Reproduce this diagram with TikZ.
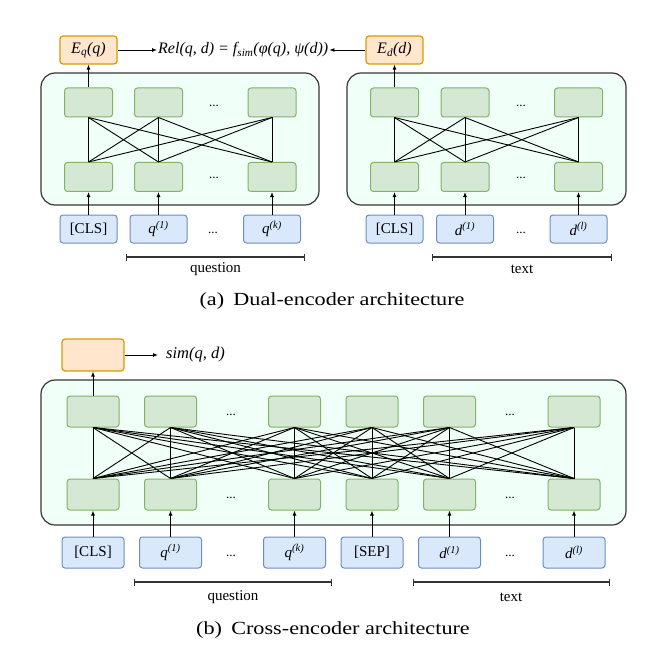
\documentclass[tikz,border=0pt]{standalone}
\usepackage{fontspec}
\setmainfont{Liberation Serif}
\newfontfamily\capfont[FakeStretch=1.2]{Liberation Serif}
\usetikzlibrary{arrows.meta}
\definecolor{mint}{HTML}{F0FFF8}
\definecolor{contline}{HTML}{363636}
\definecolor{gfill}{HTML}{D5E8D4}
\definecolor{gline}{HTML}{82B366}
\definecolor{bfill}{HTML}{DAE8FC}
\definecolor{bline}{HTML}{6C8EBF}
\definecolor{ofill}{HTML}{FFE6CC}
\definecolor{oline}{HTML}{D79B00}
\tikzset{
  cont/.style={draw=contline, fill=mint, line width=1.2pt, rounded corners=14pt, inner sep=0pt},
  gbox/.style={draw=gline, fill=gfill, line width=1pt, rounded corners=3pt, inner sep=0pt},
  ibox/.style={draw=bline, fill=bfill, line width=1pt, rounded corners=3pt, inner sep=0pt, font=\fontsize{15}{18}\selectfont},
  obox/.style={draw=oline, fill=ofill, line width=1.2pt, rounded corners=3pt, inner sep=0pt, font=\fontsize{16}{19}\selectfont\itshape},
  conn/.style={draw=black, line width=0.9pt},
  arr/.style={draw=black, line width=0.9pt, -{Latex[length=5pt,width=4pt]}},
  brk/.style={draw=black!80, line width=1.1pt, {Bar[width=7pt]}-{Bar[width=7pt]}},
  lbl/.style={font=\fontsize{15}{18}\selectfont, inner sep=0pt},
  dotstext/.style={font=\fontsize{13}{15}\selectfont, inner sep=0pt},
  captext/.style={font=\capfont\fontsize{18.5}{22}\selectfont, inner sep=0pt},
}
\begin{document}
\begin{tikzpicture}[x=1pt,y=-1pt]
\useasboundingbox (0,0) rectangle (666,647);

% ---------------- (a) Dual-encoder ----------------
\node[cont, minimum width=278pt, minimum height=132pt] (aL) at (180,139) {};
\node[cont, minimum width=279pt, minimum height=132pt] (aR) at (486.5,139) {};

\foreach \i/\x in {1/88.5,2/158.5,3/272} {
  \node[gbox, minimum width=48pt, minimum height=29pt] (aLt\i) at (\x,102.5) {};
  \node[gbox, minimum width=48pt, minimum height=29pt] (aLb\i) at (\x,177) {};
}
\foreach \i/\x in {1/394.5,2/465,3/578.5} {
  \node[gbox, minimum width=48pt, minimum height=29pt] (aRt\i) at (\x,102.5) {};
  \node[gbox, minimum width=48pt, minimum height=29pt] (aRb\i) at (\x,177) {};
}
\foreach \i in {1,2,3} \foreach \j in {1,2,3} {
  \draw[conn] (aLt\i.south) -- (aLb\j.north);
  \draw[conn] (aRt\i.south) -- (aRb\j.north);
}
\node[dotstext] (aLd1) at (214,106) {...};
\node[dotstext] (aLd2) at (214,178) {...};
\node[dotstext] (aRd1) at (521,106) {...};
\node[dotstext] (aRd2) at (521,178) {...};

% inputs
\node[ibox, minimum width=57pt, minimum height=28pt] (aLi1) at (88.5,229) {[CLS]};
\node[ibox, minimum width=57pt, minimum height=28pt] (aLi2) at (158.5,229) {\textit{q}\textsuperscript{\textit{(1)}}};
\node[ibox, minimum width=57pt, minimum height=28pt] (aLi3) at (272,229) {\textit{q}\textsuperscript{\textit{(k)}}};
\node[ibox, minimum width=57pt, minimum height=28pt] (aRi1) at (394.5,229) {[CLS]};
\node[ibox, minimum width=57pt, minimum height=28pt] (aRi2) at (465,229) {\textit{d}\textsuperscript{\textit{(1)}}};
\node[ibox, minimum width=57pt, minimum height=28pt] (aRi3) at (578.5,229) {\textit{d}\textsuperscript{\textit{(l)}}};
\node[dotstext] (aLd3) at (213,233) {...};
\node[dotstext] (aRd3) at (521,233) {...};
\foreach \i in {1,2,3} {
  \draw[arr] (aLi\i.north) -- (aLb\i.south);
  \draw[arr] (aRi\i.north) -- (aRb\i.south);
}

% encodings
\node[obox, minimum width=57pt, minimum height=28pt] (Eq) at (88.5,50) {E\textsubscript{q}(q)};
\node[obox, minimum width=57pt, minimum height=28pt] (Ed) at (394.5,50) {E\textsubscript{d}(d)};
\draw[arr] (aLt1.north) -- (Eq.south);
\draw[arr] (aRt1.north) -- (Ed.south);
\node[anchor=west, inner sep=1pt, font=\fontsize{16}{19}\selectfont\itshape] (rel) at (157,50)
  {Rel(q, d) = f\textsubscript{sim}(φ(q), ψ(d))};
\draw[arr] (Eq.east) -- (rel.west);
\draw[arr] (Ed.west) -- (rel.east);

% brackets
\coordinate (aq1) at (126,257); \coordinate (aq2) at (305,257);
\coordinate (at1) at (432,257); \coordinate (at2) at (612,257);
\draw[brk] (aq1) -- (aq2);
\draw[brk] (at1) -- (at2);
\node[lbl] (aqL) at (215.5,269) {question};
\node[lbl] (atL) at (522,269) {text};

\node[captext] (capa) at (332,301) {(a)\hspace{0.5em}Dual-encoder architecture};

% ---------------- (b) Cross-encoder ----------------
\node[cont, minimum width=585pt, minimum height=145pt] (bC) at (333.5,452.5) {};
\foreach \i/\x in {1/93,2/170.5,3/294.5,4/372,5/449.5,6/574} {
  \node[gbox, minimum width=52pt, minimum height=31pt] (bt\i) at (\x,411.5) {};
  \node[gbox, minimum width=52pt, minimum height=31pt] (bb\i) at (\x,494.5) {};
}
\foreach \i in {1,...,6} \foreach \j in {1,...,6} {
  \draw[conn] (bt\i.south) -- (bb\j.north);
}
\node[dotstext] (bd1) at (231,415) {...};
\node[dotstext] (bd2) at (231,498) {...};
\node[dotstext] (bd3) at (510,415) {...};
\node[dotstext] (bd4) at (510,498) {...};

\node[ibox, minimum width=62pt, minimum height=31pt] (bi1) at (93,552.5) {[CLS]};
\node[ibox, minimum width=62pt, minimum height=31pt] (bi2) at (170.5,552.5) {\textit{q}\textsuperscript{\textit{(1)}}};
\node[ibox, minimum width=62pt, minimum height=31pt] (bi3) at (294.5,552.5) {\textit{q}\textsuperscript{\textit{(k)}}};
\node[ibox, minimum width=62pt, minimum height=31pt] (bi4) at (372,552.5) {[SEP]};
\node[ibox, minimum width=62pt, minimum height=31pt] (bi5) at (449.5,552.5) {\textit{d}\textsuperscript{\textit{(1)}}};
\node[ibox, minimum width=62pt, minimum height=31pt] (bi6) at (574,552.5) {\textit{d}\textsuperscript{\textit{(l)}}};
\node[dotstext] (bd5) at (231,556) {...};
\node[dotstext] (bd6) at (510,556) {...};
\foreach \i in {1,...,6} {
  \draw[arr] (bi\i.north) -- (bb\i.south);
}

\node[obox, minimum width=62pt, minimum height=32pt] (S) at (93,355) {};
\draw[arr] (bt1.north) -- (S.south);
\node[anchor=west, inner sep=0pt, font=\fontsize{16.5}{19}\selectfont\itshape] (sim) at (166,355) {sim(q, d)};
\coordinate (simL) at (158,355);
\draw[arr] (S.east) -- (simL);

\coordinate (bq1) at (134,582); \coordinate (bq2) at (332,582);
\coordinate (bt1c) at (413,582); \coordinate (bt2c) at (610,582);
\draw[brk] (bq1) -- (bq2);
\draw[brk] (bt1c) -- (bt2c);
\node[lbl] (bqL) at (233,597) {question};
\node[lbl] (btL) at (511,597) {text};

\node[captext] (capb) at (333,630) {(b)\hspace{0.5em}Cross-encoder architecture};
\end{tikzpicture}
\end{document}
